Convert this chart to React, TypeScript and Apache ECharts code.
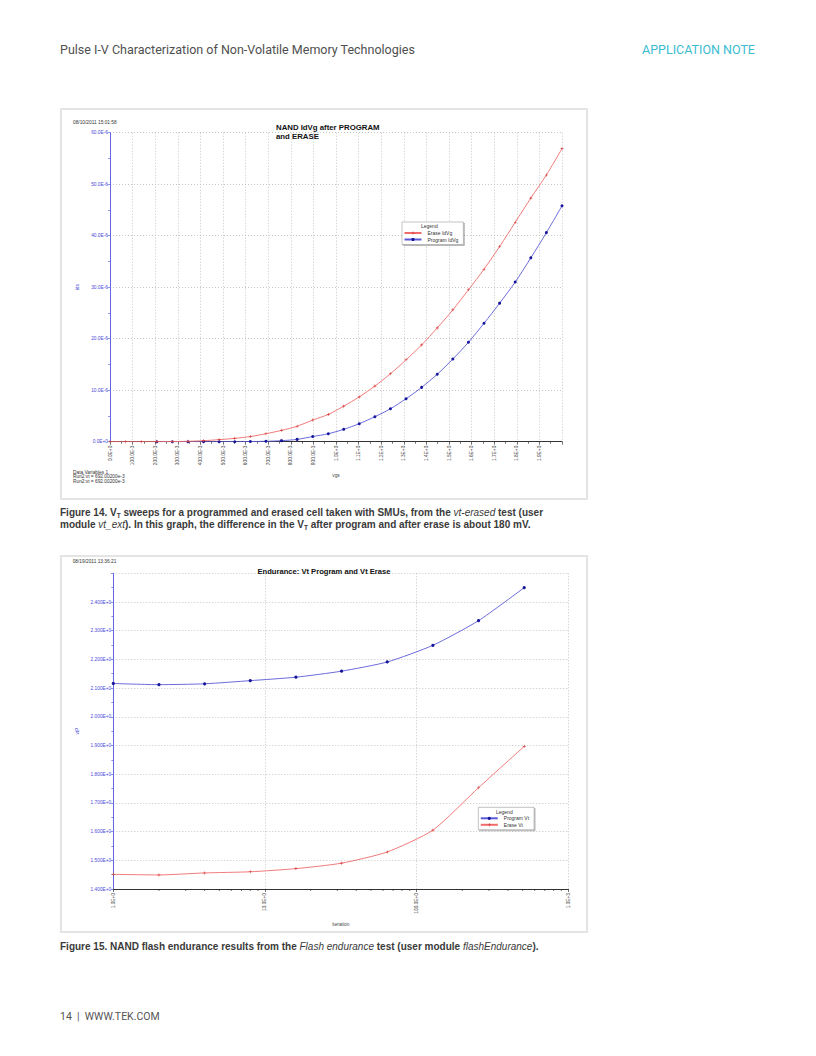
import React, { useEffect, useRef } from "react";
import * as echarts from "echarts";

// ---------- Figure 14 data (Id-Vg sweeps) ----------
const VGS = [
  0, 0.069, 0.138, 0.207, 0.276, 0.345, 0.414, 0.483, 0.552, 0.621, 0.69, 0.759, 0.828, 0.897, 0.966,
  1.034, 1.103, 1.172, 1.241, 1.31, 1.379, 1.448, 1.517, 1.586, 1.655, 1.724, 1.793, 1.862, 1.931, 2.0,
];
// drain current in µA
const ERASE_IDS = [
  0, 0, 0, 0.01, 0.03, 0.08, 0.2, 0.4, 0.65, 1.0, 1.55, 2.2, 3.0, 4.2, 5.3, 6.9, 8.7, 10.8, 13.2, 15.9,
  18.8, 22.1, 25.6, 29.5, 33.5, 37.9, 42.6, 47.3, 51.8, 56.9,
];
const PROGRAM_IDS: (number | string)[] = [
  "-", "-", "-", 0, 0, 0, 0, 0, 0, 0.03, 0.08, 0.2, 0.45, 1.0, 1.55, 2.4, 3.5, 4.85, 6.4, 8.35, 10.55,
  13.1, 16.05, 19.3, 23.0, 26.9, 31.0, 35.7, 40.6, 45.8,
];
const X1_TICK_LABELS = [
  "0.0E+0", "100.0E-3", "200.0E-3", "300.0E-3", "400.0E-3", "500.0E-3", "600.0E-3", "700.0E-3",
  "800.0E-3", "900.0E-3", "1.0E+0", "1.1E+0", "1.2E+0", "1.3E+0", "1.4E+0", "1.5E+0", "1.6E+0",
  "1.7E+0", "1.8E+0", "1.9E+0",
];
const Y1_TICK_LABELS = ["0.0E+0", "10.0E-6", "20.0E-6", "30.0E-6", "40.0E-6", "50.0E-6", "60.0E-6"];
const DATA_VARIABLES = ["Data Variables 1", "Run2:vt = 692.00200e-3", "Run2:vt = 692.00200e-3"];

// ---------- Figure 15 data (endurance) ----------
const ITERATION = [1, 2, 4, 8, 16, 32, 64, 128, 256, 512];
const PROGRAM_VT = [2.116, 2.112, 2.115, 2.126, 2.138, 2.159, 2.191, 2.249, 2.335, 2.45];
const ERASE_VT = [1.451, 1.449, 1.456, 1.46, 1.471, 1.49, 1.529, 1.605, 1.753, 1.897];
const X2_TICKS = [1, 10, 100, 1000];
const X2_TICK_LABELS = ["1.0E+0", "10.0E+0", "100.0E+0", "1.0E+3"];
const X2_MINOR_TICKS = [2, 3, 4, 5, 6, 7, 8, 9, 20, 30, 40, 50, 60, 70, 80, 90, 200, 300, 400, 500, 600, 700, 800, 900];
const Y2_TICK_LABELS = [
  "1.400E+0", "1.500E+0", "1.600E+0", "1.700E+0", "1.800E+0", "1.900E+0", "2.000E+0", "2.100E+0",
  "2.200E+0", "2.300E+0", "2.400E+0",
];

const FONT = '"Liberation Sans", Arial, Helvetica, sans-serif';
const RED = "#f06b6b";
const RED_MARK = "#d83c3c";
const BLUE = "#5a5ad8";
const BLUE_MARK = "#16169a";
const AXIS_BLUE = "#6464e4";
const LABEL_BLUE = "#4b4bd8";
const GRID = { show: true, lineStyle: { color: "#b8b8b8", type: [1, 2], width: 0.8 } };
const PLUS = "path://M4,0 L6,0 L6,4 L10,4 L10,6 L6,6 L6,10 L4,10 L4,6 L0,6 L0,4 L4,4 Z";

function legendBox(left: number, top: number, names: string[]) {
  return {
    orient: "vertical",
    left,
    top,
    data: names,
    itemWidth: 17,
    itemHeight: 4,
    itemGap: 1.5,
    padding: [8.5, 5, 2.5, 1.5],
    borderColor: "#9a9a9a",
    borderWidth: 0.6,
    backgroundColor: "#fff",
    shadowColor: "rgba(0,0,0,0.35)",
    shadowOffsetX: 1,
    shadowOffsetY: 1,
    shadowBlur: 0,
    textStyle: { fontSize: 5, color: "#333", fontFamily: FONT, padding: [0, 0, 0, 1] },
    selectedMode: false,
  };
}

function Chart({ option, style }: { option: any; style: React.CSSProperties }) {
  const ref = useRef<HTMLDivElement>(null);
  useEffect(() => {
    if (!ref.current) return;
    const chart = echarts.init(ref.current, undefined, { renderer: "svg" });
    chart.setOption(option);
    return () => chart.dispose();
  }, [option]);
  return <div ref={ref} style={style} />;
}

const option1 = {
  animation: false,
  backgroundColor: "#fff",
  textStyle: { fontFamily: FONT },
  title: {
    text: "NAND IdVg after PROGRAM\nand ERASE",
    left: 216,
    top: 14.5,
    padding: 0,
    textStyle: { fontSize: 7.8, fontWeight: "bold", color: "#111", lineHeight: 9, fontFamily: FONT },
  },
  legend: legendBox(342, 114, ["Erase IdVg", "Program IdVg"]),
  graphic: [
    { type: "text", left: 13, top: 12, style: { text: "08/10/2011 15:01:58", fontSize: 4.8, fill: "#333", fontFamily: FONT } },
    { type: "text", left: 361, top: 115.5, z: 100, style: { text: "Legend", fontSize: 5, fill: "#333", fontFamily: FONT } },
    ...DATA_VARIABLES.map((t, i) => ({
      type: "text",
      left: 13,
      top: 361.5 + i * 4.7,
      style: { text: t, fontSize: 4.8, fill: "#333", fontFamily: FONT },
    })),
  ],
  grid: { left: 50, right: 26, top: 24.7, bottom: 58.3 },
  xAxis: {
    type: "value",
    min: 0,
    max: 2,
    interval: 0.1,
    name: "vgs",
    nameLocation: "middle",
    nameGap: 29,
    nameTextStyle: { fontSize: 4.8, color: "#444", fontFamily: FONT },
    axisLine: { show: true, onZero: false, lineStyle: { color: "#333", width: 1 } },
    axisTick: { show: true, length: 3, lineStyle: { color: "#333", width: 0.7 } },
    minorTick: { show: true, splitNumber: 2, length: 2, lineStyle: { color: "#333", width: 0.7 } },
    axisLabel: {
      rotate: 90,
      fontSize: 4.8,
      color: "#444",
      margin: 4,
      fontFamily: FONT,
      formatter: (v: number) => X1_TICK_LABELS[Math.round(v * 10)] ?? "",
    },
    splitLine: GRID,
  },
  yAxis: {
    type: "value",
    min: 0,
    max: 60,
    interval: 10,
    name: "ids",
    nameLocation: "middle",
    nameGap: 24,
    nameTextStyle: { fontSize: 4.8, color: LABEL_BLUE, fontFamily: FONT },
    axisLine: { show: true, lineStyle: { color: AXIS_BLUE, width: 1 } },
    axisTick: { show: true, length: 2.5, lineStyle: { color: AXIS_BLUE, width: 0.7 } },
    minorTick: { show: true, splitNumber: 2, length: 2, lineStyle: { color: AXIS_BLUE, width: 0.7 } },
    axisLabel: {
      fontSize: 4.8,
      color: LABEL_BLUE,
      margin: 2,
      fontFamily: FONT,
      formatter: (v: number) => Y1_TICK_LABELS[Math.round(v / 10)] ?? "",
    },
    splitLine: GRID,
  },
  series: [
    {
      name: "Program IdVg",
      type: "line",
      smooth: 0.3,
      z: 2,
      data: VGS.map((x, i) => [x, PROGRAM_IDS[i]]),
      symbol: "circle",
      symbolSize: 3,
      lineStyle: { color: BLUE, width: 0.9 },
      itemStyle: { color: BLUE_MARK },
    },
    {
      name: "Erase IdVg",
      type: "line",
      smooth: 0.3,
      z: 3,
      data: VGS.map((x, i) => [x, ERASE_IDS[i]]),
      symbol: PLUS,
      symbolSize: 3,
      lineStyle: { color: RED, width: 0.9 },
      itemStyle: { color: RED_MARK },
    },
  ],
};

const option2 = {
  animation: false,
  backgroundColor: "#fff",
  textStyle: { fontFamily: FONT },
  title: {
    text: "Endurance: Vt Program and Vt Erase",
    left: "center",
    top: 12.5,
    padding: 0,
    textStyle: { fontSize: 7.6, fontWeight: "bold", color: "#111", fontFamily: FONT },
  },
  legend: legendBox(418.3, 252.3, ["Program Vt", "Erase Vt"]),
  graphic: [
    { type: "text", left: 12.7, top: 4.2, style: { text: "08/19/2011 13:36:21", fontSize: 4.8, fill: "#333", fontFamily: FONT } },
    { type: "text", left: 436, top: 254, z: 100, style: { text: "Legend", fontSize: 5, fill: "#333", fontFamily: FONT } },
  ],
  grid: { left: 53.3, right: 19.7, top: 18.3, bottom: 44 },
  xAxis: {
    type: "log",
    logBase: 10,
    min: 1,
    max: 1000,
    name: "iteration",
    nameLocation: "middle",
    nameGap: 30,
    nameTextStyle: { fontSize: 4.8, color: "#444", fontFamily: FONT },
    axisLine: { show: true, onZero: false, lineStyle: { color: "#333", width: 1 } },
    axisTick: { show: true, length: 3, lineStyle: { color: "#333", width: 0.7 } },
    minorTick: { show: false },
    axisLabel: {
      rotate: 90,
      fontSize: 4.8,
      color: "#444",
      margin: 4,
      fontFamily: FONT,
      formatter: (v: number) => {
        const i = X2_TICKS.findIndex((t) => Math.abs(t - v) / t < 1e-6);
        return i >= 0 ? X2_TICK_LABELS[i] : "";
      },
    },
    splitLine: GRID,
  },
  yAxis: {
    type: "value",
    min: 1.4,
    max: 2.5,
    interval: 0.1,
    name: "vtP",
    nameLocation: "middle",
    nameGap: 27,
    nameTextStyle: { fontSize: 4.8, color: LABEL_BLUE, fontFamily: FONT },
    axisLine: { show: true, lineStyle: { color: AXIS_BLUE, width: 1 } },
    axisTick: { show: true, length: 2.5, lineStyle: { color: AXIS_BLUE, width: 0.7 } },
    minorTick: { show: true, splitNumber: 2, length: 2, lineStyle: { color: AXIS_BLUE, width: 0.7 } },
    axisLabel: {
      fontSize: 4.8,
      color: LABEL_BLUE,
      margin: 2,
      fontFamily: FONT,
      formatter: (v: number) => Y2_TICK_LABELS[Math.round((v - 1.4) * 10)] ?? "",
    },
    splitLine: GRID,
  },
  series: [
    {
      name: "Program Vt",
      type: "line",
      smooth: 0.2,
      data: ITERATION.map((x, i) => [x, PROGRAM_VT[i]]),
      symbol: "circle",
      symbolSize: 3.2,
      lineStyle: { color: BLUE, width: 0.9 },
      itemStyle: { color: BLUE_MARK },
    },
    {
      name: "Erase Vt",
      type: "line",
      smooth: 0.2,
      data: ITERATION.map((x, i) => [x, ERASE_VT[i]]),
      symbol: PLUS,
      symbolSize: 3,
      lineStyle: { color: RED, width: 0.9 },
      itemStyle: { color: RED_MARK },
    },
    {
      name: "minor ticks",
      type: "custom",
      silent: true,
      clip: false,
      z: 4,
      data: X2_MINOR_TICKS.map((v) => [v, 1.4]),
      encode: { x: 0, y: 1 },
      renderItem: (_p: any, api: any) => {
        const pt = api.coord([api.value(0), api.value(1)]);
        return {
          type: "line",
          shape: { x1: pt[0], y1: pt[1], x2: pt[0], y2: pt[1] + 2 },
          style: { stroke: "#333", lineWidth: 0.7 },
        };
      },
    },
  ],
};

const frame: React.CSSProperties = {
  position: "absolute",
  boxSizing: "border-box",
  border: "2px solid #e4e4e4",
  pointerEvents: "none",
};

const caption: React.CSSProperties = {
  position: "absolute",
  left: 60,
  fontFamily: FONT,
  fontWeight: "bold",
  fontSize: 10,
  lineHeight: "12px",
  color: "#3a3a3a",
  whiteSpace: "nowrap",
};

const sub: React.CSSProperties = { fontSize: 6.5, position: "relative", top: 2, lineHeight: 0 };

export default function App() {
  return (
    <div style={{ position: "absolute", left: 0, top: 0, width: 816, height: 1056, background: "#fff", overflow: "hidden" }}>
      <div
        style={{
          position: "absolute",
          left: 60,
          top: 43,
          fontFamily: "Roboto, sans-serif",
          fontSize: 12.5,
          lineHeight: "14px",
          color: "#4f4f4f",
          whiteSpace: "nowrap",
        }}
      >
        Pulse I-V Characterization of Non-Volatile Memory Technologies
      </div>
      <div
        style={{
          position: "absolute",
          left: 642,
          top: 43,
          fontFamily: "Roboto, sans-serif",
          fontSize: 12.5,
          lineHeight: "14px",
          color: "#3bbcd1",
          whiteSpace: "nowrap",
        }}
      >
        APPLICATION NOTE
      </div>

      <Chart option={option1} style={{ position: "absolute", left: 60, top: 108, width: 528, height: 392 }} />
      <div style={{ ...frame, left: 60, top: 108, width: 528, height: 392 }} />

      <div style={{ ...caption, top: 507 }}>
        Figure 14. V<span style={sub}>T</span> sweeps for a programmed and erased cell taken with SMUs, from the{" "}
        <i style={{ fontWeight: "normal" }}>vt-erased</i> test (user
        <br />
        module <i style={{ fontWeight: "normal" }}>vt_ext</i>). In this graph, the difference in the V
        <span style={sub}>T</span> after program and after erase is about 180 mV.
      </div>

      <Chart option={option2} style={{ position: "absolute", left: 60, top: 555, width: 528, height: 378 }} />
      <div style={{ ...frame, left: 60, top: 555, width: 528, height: 378 }} />

      <div style={{ ...caption, top: 941 }}>
        Figure 15. NAND flash endurance results from the <i style={{ fontWeight: "normal" }}>Flash endurance</i> test
        (user module <i style={{ fontWeight: "normal" }}>flashEndurance</i>).
      </div>

      <div
        style={{
          position: "absolute",
          left: 60,
          top: 1011,
          fontFamily: "Roboto, sans-serif",
          fontSize: 10.5,
          lineHeight: "12px",
          color: "#555",
          whiteSpace: "nowrap",
        }}
      >
        14&nbsp;&nbsp;|&nbsp;&nbsp;WWW.TEK.COM
      </div>
    </div>
  );
}
